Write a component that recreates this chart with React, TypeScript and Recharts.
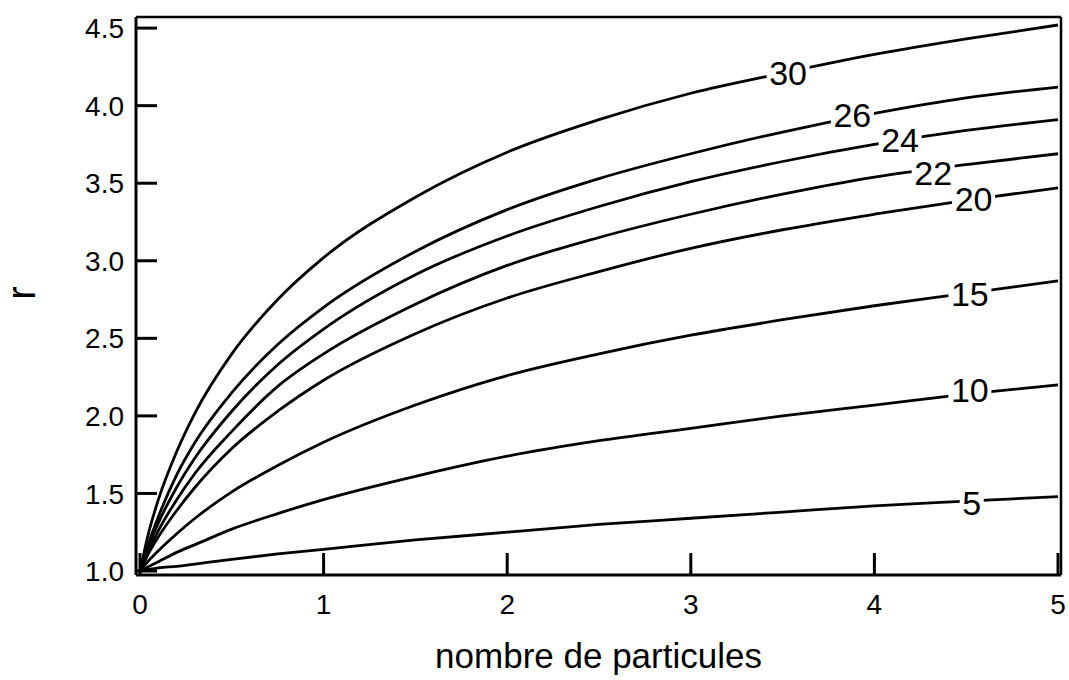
import React from 'react';
import { LineChart, Line, XAxis, YAxis, ReferenceDot, Label } from 'recharts';

// Number of particles (x) sample positions
const particles = [0, 0.05, 0.1, 0.2, 0.3, 0.5, 0.75, 1, 1.5, 2, 2.5, 3, 3.5, 4, 4.5, 5];

// r values for each curve
const r30 = [1.0, 1.26, 1.46, 1.77, 2.02, 2.4, 2.75, 3.02, 3.41, 3.7, 3.91, 4.08, 4.21, 4.33, 4.43, 4.52];
const r26 = [1.0, 1.19, 1.35, 1.62, 1.83, 2.15, 2.46, 2.7, 3.06, 3.33, 3.53, 3.69, 3.83, 3.95, 4.05, 4.12];
const r24 = [1.0, 1.17, 1.31, 1.54, 1.73, 2.03, 2.33, 2.56, 2.91, 3.16, 3.35, 3.51, 3.64, 3.75, 3.84, 3.91];
const r22 = [1.0, 1.14, 1.26, 1.46, 1.63, 1.9, 2.19, 2.4, 2.72, 2.97, 3.15, 3.3, 3.43, 3.54, 3.62, 3.69];
const r20 = [1.0, 1.12, 1.22, 1.39, 1.54, 1.79, 2.03, 2.23, 2.53, 2.76, 2.93, 3.08, 3.2, 3.3, 3.39, 3.47];
const r15 = [1.0, 1.07, 1.13, 1.24, 1.34, 1.51, 1.68, 1.83, 2.07, 2.26, 2.4, 2.52, 2.62, 2.71, 2.79, 2.87];
const r10 = [1.0, 1.03, 1.06, 1.12, 1.17, 1.27, 1.37, 1.46, 1.61, 1.74, 1.84, 1.92, 2.0, 2.07, 2.14, 2.2];
const r5 = [1.0, 1.01, 1.02, 1.03, 1.045, 1.075, 1.11, 1.14, 1.2, 1.25, 1.3, 1.34, 1.38, 1.42, 1.45, 1.48];

const seriesNames = ['30', '26', '24', '22', '20', '15', '10', '5'];
const seriesValues = [r30, r26, r24, r22, r20, r15, r10, r5];

// Curve label anchors (n, r)
const labelText = ['30', '26', '24', '22', '20', '15', '10', '5'];
const labelN = [3.53, 3.88, 4.14, 4.32, 4.54, 4.52, 4.52, 4.53];
const labelR = [4.21, 3.94, 3.78, 3.57, 3.4, 2.79, 2.17, 1.44];

const xTicks = [0, 1, 2, 3, 4, 5];
const yTicks = [1.0, 1.5, 2.0, 2.5, 3.0, 3.5, 4.0, 4.5];

const xTitle = 'nombre de particules';
const yTitle = 'r';

const rows = particles.map((n, i) => {
  const row: Record<string, number> = { n };
  seriesNames.forEach((name, k) => {
    row['c' + name] = seriesValues[k][i];
  });
  return row;
});

const FONT = '"Liberation Sans", Arial, Helvetica, sans-serif';

const YTick = (props: any) => {
  const { x, y, payload } = props;
  return (
    <g>
      <line x1={x} x2={x + 21} y1={y} y2={y} stroke="#000" strokeWidth={3} />
      <text x={x - 12} y={y} dy="0.36em" textAnchor="end" fontFamily={FONT} fontSize={28} fill="#000">
        {Number(payload.value).toFixed(1)}
      </text>
    </g>
  );
};

const XTick = (props: any) => {
  const { x, y, payload } = props;
  return (
    <g>
      <line x1={x} x2={x} y1={y} y2={y - 22} stroke="#000" strokeWidth={3} />
      <text x={x} y={y + 39} textAnchor="middle" fontFamily={FONT} fontSize={28} fill="#000">
        {String(payload.value)}
      </text>
    </g>
  );
};

const CurveLabel = (props: any) => {
  const { cx, cy, text } = props;
  const w = text.length * 19 + 5;
  const h = 22;
  return (
    <g>
      <rect x={cx - w / 2} y={cy - h / 2} width={w} height={h} fill="#fff" />
      <text x={cx} y={cy} dy="0.36em" textAnchor="middle" fontFamily={FONT} fontSize={34} fill="#000">
        {text}
      </text>
    </g>
  );
};

export default function App() {
  return (
    <div style={{ position: 'absolute', left: 0, top: 0, width: 1069, height: 680, background: '#fff' }}>
      <LineChart
        width={1069}
        height={680}
        data={rows}
        margin={{ top: 0, right: 0, bottom: 0, left: 0 }}
      >
        <XAxis
          dataKey="n"
          type="number"
          domain={[0, 5]}
          ticks={xTicks}
          interval={0}
          padding={{ left: 4, right: 3 }}
          height={105}
          tickSize={0}
          tickMargin={0}
          tickLine={false}
          axisLine={{ stroke: '#000', strokeWidth: 3 }}
          tick={<XTick />}
        >
          <Label
            content={(p: any) => {
              const vb = p.viewBox || {};
              return (
                <text
                  x={vb.x + vb.width / 2}
                  y={vb.y + 93}
                  textAnchor="middle"
                  fontFamily={FONT}
                  fontSize={35}
                  fill="#000"
                >
                  {xTitle}
                </text>
              );
            }}
          />
        </XAxis>
        <XAxis
          xAxisId="top"
          orientation="top"
          dataKey="n"
          type="number"
          domain={[0, 5]}
          padding={{ left: 4, right: 3 }}
          height={17}
          tick={false}
          tickLine={false}
          axisLine={{ stroke: '#000', strokeWidth: 2.5 }}
        />
        <YAxis
          type="number"
          domain={[1, 4.5]}
          ticks={yTicks}
          interval={0}
          padding={{ top: 8, bottom: 4 }}
          width={136}
          tickSize={0}
          tickMargin={0}
          tickLine={false}
          axisLine={{ stroke: '#000', strokeWidth: 3 }}
          tick={<YTick />}
        >
          <Label
            content={(p: any) => {
              const vb = p.viewBox || {};
              const cx = vb.x + vb.width - 111;
              const cy = vb.y + vb.height / 2 - 3;
              return (
                <text
                  x={cx}
                  y={cy}
                  dy="0.25em"
                  textAnchor="middle"
                  transform={`rotate(-90 ${cx} ${cy})`}
                  fontFamily={FONT}
                  fontSize={40}
                  fill="#000"
                >
                  {yTitle}
                </text>
              );
            }}
          />
        </YAxis>
        <YAxis
          yAxisId="right"
          orientation="right"
          type="number"
          domain={[1, 4.5]}
          padding={{ top: 8, bottom: 4 }}
          width={8}
          tick={false}
          tickLine={false}
          axisLine={{ stroke: '#000', strokeWidth: 2.5 }}
        />
        {seriesNames.map((name) => (
          <Line
            key={name}
            type="monotone"
            dataKey={'c' + name}
            stroke="#000"
            strokeWidth={2.8}
            dot={false}
            activeDot={false}
            isAnimationActive={false}
          />
        ))}
        {labelText.map((t, i) => (
          <ReferenceDot
            key={'lab' + t}
            x={labelN[i]}
            y={labelR[i]}
            r={0}
            ifOverflow="visible"
            shape={(p: any) => <CurveLabel cx={p.cx} cy={p.cy} text={t} />}
          />
        ))}
      </LineChart>
    </div>
  );
}
